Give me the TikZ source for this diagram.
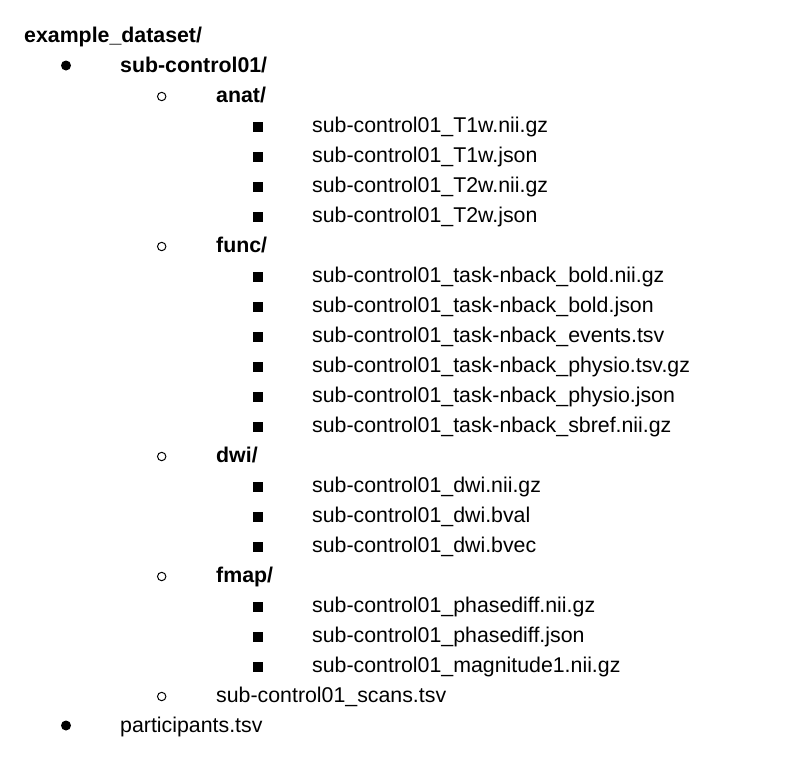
\documentclass[tikz,border=0pt]{standalone}
\usepackage{fontspec}
\setmainfont{Liberation Sans}
\begin{document}
\begin{tikzpicture}[x=1pt,y=-1pt,
  txt/.style={anchor=base west,inner sep=0pt,font=\fontsize{21.33}{24}\selectfont},
  btxt/.style={txt,font=\fontsize{21.33}{24}\selectfont\bfseries},
  discb/.style={fill=black,draw=none},
  circb/.style={draw=black,line width=1pt,fill=none},
  sqb/.style={fill=black,draw=none}]
\useasboundingbox (0,0) rectangle (800,780);
\node[btxt] (r0) at (24,42) {example\_dataset/};
\fill[discb] (66,65.5) circle (5);
\node[btxt] (r1) at (120,72) {sub-control01/};
\draw[circb] (161.7,96.5) circle (4.2);
\node[btxt] (r2) at (216,102) {anat/};
\fill[sqb] (252.5,121.7) rectangle (262.5,131.7);
\node[txt] (r3) at (312,132) {sub-control01\_T1w.nii.gz};
\fill[sqb] (252.5,151.7) rectangle (262.5,161.7);
\node[txt] (r4) at (312,162) {sub-control01\_T1w.json};
\fill[sqb] (252.5,181.7) rectangle (262.5,191.7);
\node[txt] (r5) at (312,192) {sub-control01\_T2w.nii.gz};
\fill[sqb] (252.5,211.7) rectangle (262.5,221.7);
\node[txt] (r6) at (312,222) {sub-control01\_T2w.json};
\draw[circb] (161.7,246.5) circle (4.2);
\node[btxt] (r7) at (216,252) {func/};
\fill[sqb] (252.5,271.7) rectangle (262.5,281.7);
\node[txt] (r8) at (312,282) {sub-control01\_task-nback\_bold.nii.gz};
\fill[sqb] (252.5,301.7) rectangle (262.5,311.7);
\node[txt] (r9) at (312,312) {sub-control01\_task-nback\_bold.json};
\fill[sqb] (252.5,331.7) rectangle (262.5,341.7);
\node[txt] (r10) at (312,342) {sub-control01\_task-nback\_events.tsv};
\fill[sqb] (252.5,361.7) rectangle (262.5,371.7);
\node[txt] (r11) at (312,372) {sub-control01\_task-nback\_physio.tsv.gz};
\fill[sqb] (252.5,391.7) rectangle (262.5,401.7);
\node[txt] (r12) at (312,402) {sub-control01\_task-nback\_physio.json};
\fill[sqb] (252.5,421.7) rectangle (262.5,431.7);
\node[txt] (r13) at (312,432) {sub-control01\_task-nback\_sbref.nii.gz};
\draw[circb] (161.7,456.5) circle (4.2);
\node[btxt] (r14) at (216,462) {dwi/};
\fill[sqb] (252.5,481.7) rectangle (262.5,491.7);
\node[txt] (r15) at (312,492) {sub-control01\_dwi.nii.gz};
\fill[sqb] (252.5,511.7) rectangle (262.5,521.7);
\node[txt] (r16) at (312,522) {sub-control01\_dwi.bval};
\fill[sqb] (252.5,541.7) rectangle (262.5,551.7);
\node[txt] (r17) at (312,552) {sub-control01\_dwi.bvec};
\draw[circb] (161.7,576.5) circle (4.2);
\node[btxt] (r18) at (216,582) {fmap/};
\fill[sqb] (252.5,601.7) rectangle (262.5,611.7);
\node[txt] (r19) at (312,612) {sub-control01\_phasediff.nii.gz};
\fill[sqb] (252.5,631.7) rectangle (262.5,641.7);
\node[txt] (r20) at (312,642) {sub-control01\_phasediff.json};
\fill[sqb] (252.5,661.7) rectangle (262.5,671.7);
\node[txt] (r21) at (312,672) {sub-control01\_magnitude1.nii.gz};
\draw[circb] (161.7,696.5) circle (4.2);
\node[txt] (r22) at (216,702) {sub-control01\_scans.tsv};
\fill[discb] (66,725.5) circle (5);
\node[txt] (r23) at (120,732) {participants.tsv};
\end{tikzpicture}
\end{document}
